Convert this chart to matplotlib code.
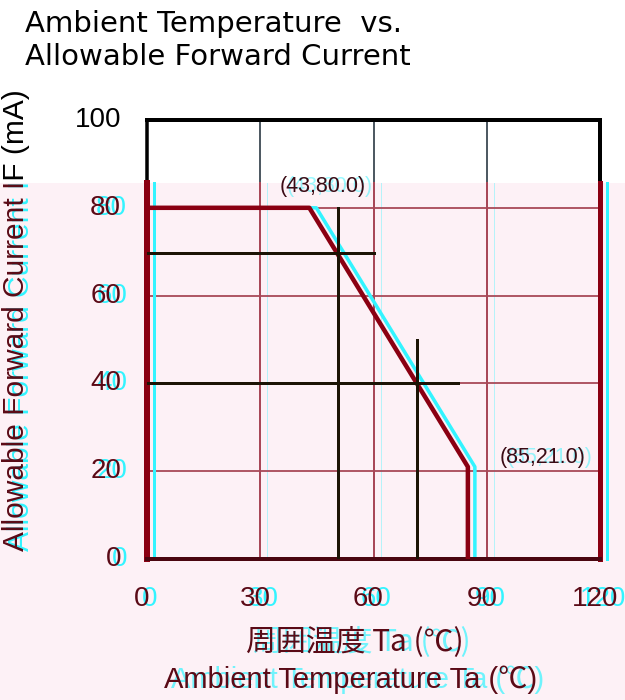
import matplotlib
matplotlib.use("Agg")
import matplotlib.pyplot as plt
import matplotlib.transforms as mtransforms
from matplotlib.patches import Rectangle

# derating curve (Ta in degC, IF in mA)
curve_ta = [0, 43, 85, 85]
curve_if = [80, 80, 21, 0]
# read-off guide lines (points on the curve)
guide_ta = [50.5, 71.5]
guide_if = [69.6, 40]
guide_h_end = [60, 82.4]
guide_v_top = [80, 50]
# annotations
notes = ["(43,80.0)", "(85,21.0)"]
note_ta = [35.2, 93.5]
note_if = [84.9, 23.2]
xticks = [0, 30, 60, 90, 120]
yticks = [0, 20, 40, 60, 80, 100]

DARK = "#8a0012"
TXT = "#5a0a16"
GRID = "#a84858"
CYAN = "#33f4ff"
PINK = "#fdf1f6"
REF = "#1c1405"
SPLIT = 85.55          # data level where the pink band starts
SPLIT_FIG = (700 - 183) / 700

fig = plt.figure(figsize=(6.25, 7.0), dpi=100)
fig.patch.set_facecolor("white")
fig.add_artist(Rectangle((0, 0), 1, SPLIT_FIG, transform=fig.transFigure,
                         facecolor=PINK, edgecolor="none", zorder=-5))

ax = fig.add_axes([147 / 625, (700 - 559) / 700, 453 / 625, 439 / 700])
ax.set_facecolor("none")
ax.set_xlim(0, 120)
ax.set_ylim(0, 100)
for s in ax.spines.values():
    s.set_visible(False)
ax.set_xticks([])
ax.set_yticks([])

px = 0.72  # points per pixel at dpi 100
ghost = ax.transData + mtransforms.ScaledTranslation(7 / 100, 0, fig.dpi_scale_trans)

# grid
for y in yticks[1:-1]:
    ax.plot([0, 120], [y, y], color=GRID, lw=1.8 * px, zorder=1)
for x in xticks[1:-1]:
    ax.plot([x, x], [SPLIT, 100], color="#4f5a63", lw=2 * px, zorder=1)
    ax.plot([x, x], [0, SPLIT], color=GRID, lw=2 * px, zorder=1)
    ax.plot([x, x], [0, SPLIT], color=CYAN, lw=1 * px, alpha=0.35,
            transform=ghost, zorder=0.5)

# frame
fk = dict(clip_on=False, solid_capstyle="projecting")
ax.plot([0, 120], [100, 100], color="black", lw=4 * px, zorder=3, **fk)
ax.plot([0, 0], [SPLIT, 100], color="black", lw=3.5 * px, zorder=3, **fk)
ax.plot([120, 120], [SPLIT, 100], color="black", lw=4 * px, zorder=3, **fk)
ax.plot([0, 0], [0, SPLIT], color=DARK, lw=6 * px, zorder=3, clip_on=False)
ax.plot([120, 120], [0, SPLIT], color=DARK, lw=5 * px, zorder=3, clip_on=False)
ax.plot([0, 0], [0, SPLIT], color=CYAN, lw=3 * px, transform=ghost, zorder=2, clip_on=False)
ax.plot([120, 120], [0, SPLIT], color=CYAN, lw=3 * px, transform=ghost, zorder=2, clip_on=False)
ax.plot([0, 120], [0, 0], color="#4a0610", lw=4 * px, zorder=3, **fk)

# curve with its cyan ghost
ax.plot(curve_ta, curve_if, color=CYAN, lw=3.5 * px, transform=ghost, zorder=2)
ax.plot(curve_ta, curve_if, color=DARK, lw=4.5 * px, zorder=4)

# guide lines
for gx, gy, hx, vt in zip(guide_ta, guide_if, guide_h_end, guide_v_top):
    ax.plot([0, hx], [gy, gy], color=REF, lw=3 * px, zorder=5)
    ax.plot([gx, gx], [0, vt], color=REF, lw=3 * px, zorder=5)

for t, x, y in zip(notes, note_ta, note_if):
    ax.text(x, y, t, transform=ghost, color=CYAN, alpha=0.5, fontsize=15.5,
            family="Liberation Sans", va="center", ha="left", zorder=5)
    ax.text(x, y, t, color="#3a0a14", fontsize=15.5, family="Liberation Sans",
            va="center", ha="left", zorder=6)

# tick labels
tick_kw = dict(fontsize=20, family="Liberation Sans")
xlab_tr = ax.get_xaxis_transform() + mtransforms.ScaledTranslation(-5 / 100, -40 / 100, fig.dpi_scale_trans)
xlab_gh = ax.get_xaxis_transform() + mtransforms.ScaledTranslation(3 / 100, -40 / 100, fig.dpi_scale_trans)
for x in xticks:
    ax.text(x, 0, str(x), transform=xlab_gh, color=CYAN, ha="center", va="center", zorder=1, **tick_kw)
    ax.text(x, 0, str(x), transform=xlab_tr, color=TXT, ha="center", va="center", zorder=6, **tick_kw)
ylab_tr = ax.get_yaxis_transform() + mtransforms.ScaledTranslation(-26 / 100, 0, fig.dpi_scale_trans)
ylab_gh = ax.get_yaxis_transform() + mtransforms.ScaledTranslation(-20 / 100, 0, fig.dpi_scale_trans)
for y in yticks:
    if y < SPLIT:
        ax.text(0, y, str(y), transform=ylab_gh, color=CYAN, ha="right", va="center", zorder=1, **tick_kw)
    ax.text(0, y, str(y), transform=ylab_tr, color=TXT if y < SPLIT else "black",
            ha="right", va="center", zorder=6, **tick_kw)

# y label: black above the pink band, dark red inside it
lower = mtransforms.TransformedBbox(mtransforms.Bbox([[0, 0], [1, SPLIT_FIG]]), fig.transFigure)
upper = mtransforms.TransformedBbox(mtransforms.Bbox([[0, SPLIT_FIG], [1, 1]]), fig.transFigure)
ylab = "Allowable Forward Current IF (mA)"
ykw = dict(rotation=90, ha="center", va="center", fontsize=21.5, family="Liberation Sans")
yl_gh = fig.text(21 / 625, 0.543, ylab, color=CYAN, **ykw)
yl_gh.set_clip_box(lower)
yl_gh.set_clip_on(True)
yl_lo = fig.text(16 / 625, 0.543, ylab, color=TXT, **ykw)
yl_lo.set_clip_box(lower)
yl_lo.set_clip_on(True)
yl_hi = fig.text(16 / 625, 0.543, ylab, color="black", **ykw)
yl_hi.set_clip_box(upper)
yl_hi.set_clip_on(True)

# x labels
fam = ["Noto Sans CJK JP", "DejaVu Sans"]
fig.text(362 / 625, 1 - 643 / 700, "周囲温度 Ta (℃)", color=CYAN, alpha=0.7, ha="center", va="center",
         fontsize=21.5, family=fam)
fig.text(355 / 625, 1 - 643 / 700, "周囲温度 Ta (℃)", color=TXT, ha="center", va="center",
         fontsize=21.5, family=fam)
fam2 = ["Liberation Sans", "Noto Sans CJK JP", "DejaVu Sans"]
fig.text(358 / 625, 1 - 680 / 700, "Ambient Temperature Ta (℃)", color=CYAN, alpha=0.7,
         ha="center", va="center", fontsize=21, family=fam2)
fig.text(351 / 625, 1 - 680 / 700, "Ambient Temperature Ta (℃)", color=TXT,
         ha="center", va="center", fontsize=21, family=fam2)

# title
fig.text(25 / 625, 1 - 32 / 700, "Ambient Temperature  vs.", fontsize=21,
         family="DejaVu Sans", va="baseline", ha="left", color="black")
fig.text(25 / 625, 1 - 65 / 700, "Allowable Forward Current", fontsize=21,
         family="DejaVu Sans", va="baseline", ha="left", color="black")

fig.savefig("out.png", dpi=100, facecolor=fig.get_facecolor())
